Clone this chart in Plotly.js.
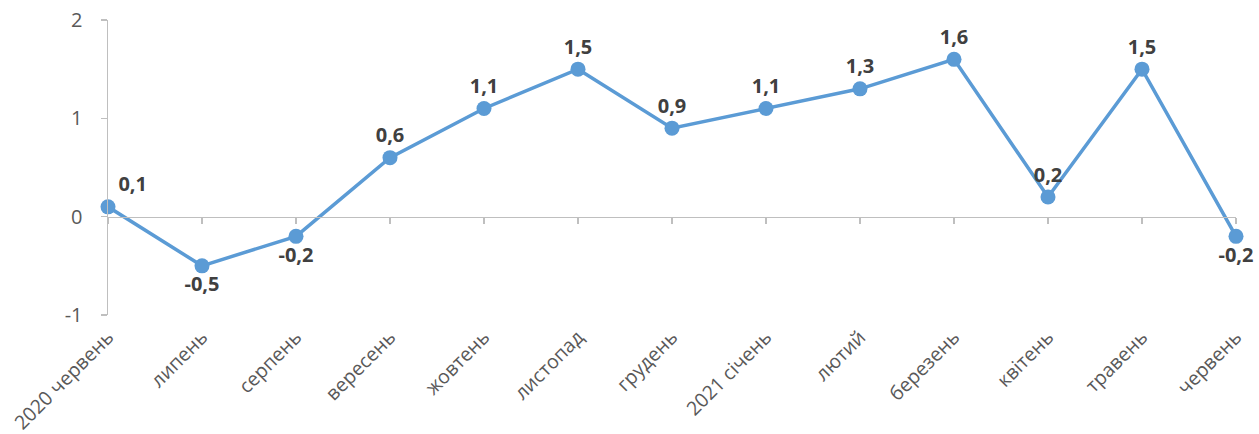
<!DOCTYPE html>
<html>
<head>
<meta charset="utf-8">
<script src="https://cdn.plot.ly/plotly-3.0.1.min.js"></script>
<style>html,body{margin:0;padding:0;background:#fff;}#chart{width:1259px;height:434px;}</style>
</head>
<body>
<div id="chart"></div>
<script>
const categories = ['2020 червень','липень','серпень','вересень','жовтень','листопад','грудень','2021 січень','лютий','березень','квітень','травень','червень'];
const values = [0.1, -0.5, -0.2, 0.6, 1.1, 1.5, 0.9, 1.1, 1.3, 1.6, 0.2, 1.5, -0.2];
const yTicks = [-1, 0, 1, 2];

const labels = values.map(v => v.toFixed(1).replace('.', ','));
const positions = values.map((v, i) => {
  if (i === 0) return 'top right';
  if (i === 1 || i === 2 || i === values.length - 1) return 'bottom center';
  return 'top center';
});
const idx = categories.map((c, i) => i);

const trace = {
  x: idx, y: values, type: 'scatter', mode: 'lines+markers+text',
  line: {color: '#5B9BD5', width: 3.5},
  marker: {color: '#5B9BD5', size: 15},
  text: labels, textposition: positions,
  textfont: {family: '"Open Sans", sans-serif', size: 20, color: '#404040', weight: 'bold'},
  cliponaxis: false, hoverinfo: 'skip'
};
const dummy = {x: idx, y: values, xaxis: 'x2', type: 'scatter', mode: 'none', hoverinfo: 'skip', showlegend: false};

const layout = {
  width: 1259, height: 434,
  margin: {l: 108, r: 23, t: 20, b: 119},
  showlegend: false,
  paper_bgcolor: '#fff', plot_bgcolor: '#fff',
  font: {family: '"Open Sans", sans-serif', color: '#595959'},
  xaxis: {
    range: [0, 12], tickvals: idx, ticktext: categories, tickangle: -45,
    showline: false, showgrid: false, zeroline: false, ticks: '',
    tickfont: {size: 19.5, color: '#595959'}, ticklabelstandoff: 6
  },
  xaxis2: {
    range: [0, 12], overlaying: 'x', anchor: 'free', position: 1/3,
    tickvals: idx, showticklabels: false, showgrid: false, zeroline: false,
    showline: true, linecolor: '#BFBFBF', linewidth: 1.5,
    ticks: 'outside', ticklen: 6, tickcolor: '#BFBFBF', tickwidth: 1.5
  },
  yaxis: {
    range: [-1, 2], tickvals: yTicks, ticktext: yTicks.map(String),
    showline: true, linecolor: '#BFBFBF', linewidth: 1.5,
    ticks: 'outside', ticklen: 6, tickcolor: '#BFBFBF', tickwidth: 1.5,
    showgrid: false, zeroline: false,
    tickfont: {size: 20, color: '#595959'}, ticklabelstandoff: 14
  }
};
Plotly.newPlot('chart', [dummy, trace], layout, {displayModeBar: false, staticPlot: true});
</script>
</body>
</html>
